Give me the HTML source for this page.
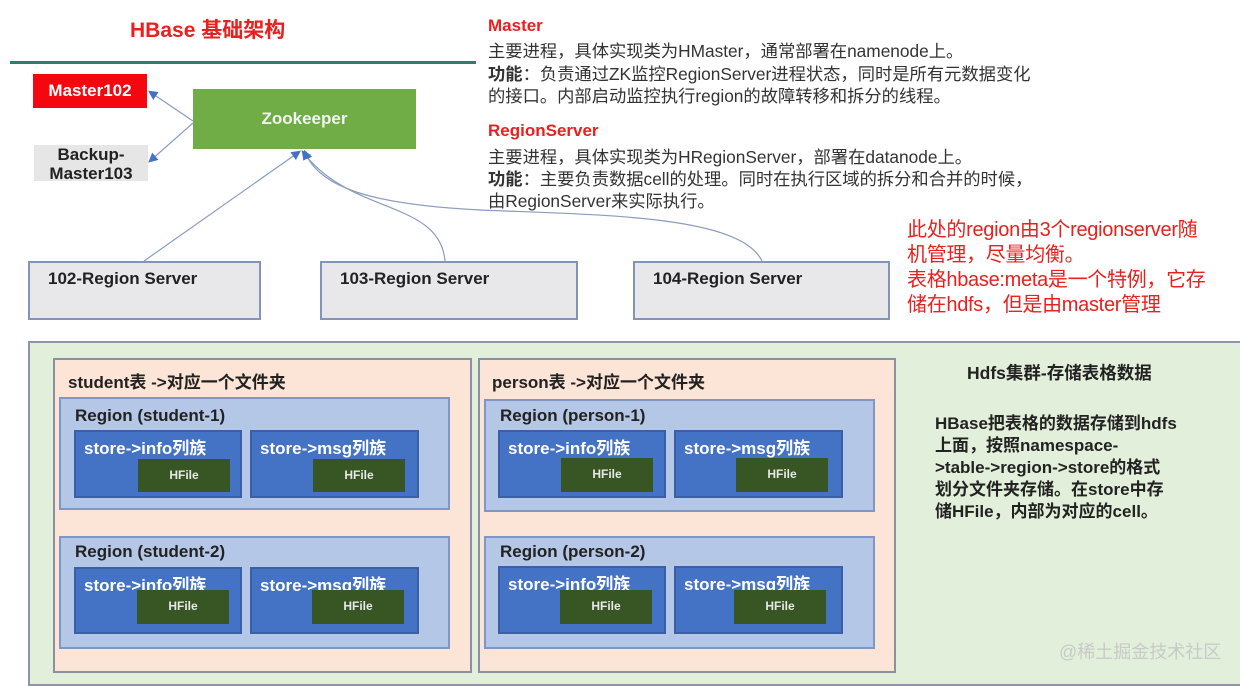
<!DOCTYPE html>
<html><head><meta charset="utf-8"><style>
*{margin:0;padding:0;box-sizing:border-box}
body{width:1240px;height:680px;background:#fff;position:relative;overflow:hidden;font-family:"Liberation Sans","Noto Sans CJK SC",sans-serif}
.a{position:absolute}
.t{position:absolute;white-space:nowrap}
.srv{position:absolute;background:#e8e8ea;border:2px solid #8294b8;font-size:17px;font-weight:bold;color:#222;padding:6px 0 0 18px}
.peach{position:absolute;background:#fce4d6;border:2px solid #8a8fa3}
.reg{position:absolute;background:#b4c7e7;border:2px solid #8096c6}
.st{position:absolute;background:#4472c4;border:2px solid #3a5fa6;color:#fff;font-size:17px;font-weight:bold;padding:2px 0 0 8px;white-space:nowrap}
.hf{position:absolute;background:#375623;color:#e8e8e8;font-size:12px;font-weight:bold;text-align:center;line-height:33px}
.rl{position:absolute;font-size:17px;font-weight:bold;color:#222;white-space:nowrap}
.d{font-size:17.3px;color:#333;left:488px;letter-spacing:0}
</style></head><body>
<div class="t" style="left:130px;top:14px;font-size:21px;font-weight:bold;color:#e8201e">HBase 基础架构</div>
<div class="a" style="left:10px;top:61px;width:466px;height:3px;background:#2b7e6e"></div>

<div class="a" style="left:33px;top:74px;width:114px;height:34px;background:#f5070f;color:#fff;font-size:17px;font-weight:bold;text-align:center;line-height:34px">Master102</div>
<div class="a" style="left:34px;top:145px;width:114px;height:36px;background:#e6e6e6;color:#222;font-size:17px;font-weight:bold;text-align:center;line-height:19px">Backup-<br>Master103</div>
<div class="a" style="left:193px;top:89px;width:223px;height:60px;background:#70ad47;color:#f2f2f2;font-size:17px;font-weight:bold;text-align:center;line-height:60px">Zookeeper</div>

<svg class="a" style="left:0;top:0" width="1240" height="340">
<defs><marker id="m" markerWidth="8" markerHeight="8" refX="6" refY="4" orient="auto"><path d="M0,0 L8,4 L0,8z" fill="#4472c4"/></marker></defs>
<g stroke="#8a9cc0" stroke-width="1.2" fill="none">
<line x1="193" y1="121" x2="150" y2="92" marker-end="url(#m)"/>
<line x1="193" y1="123" x2="150" y2="161" marker-end="url(#m)"/>
<line x1="144" y1="261" x2="299" y2="152" marker-end="url(#m)"/>
<path d="M445,261 C440,200 350,215 303,152" marker-end="url(#m)"/>
<path d="M762,261 C740,215 600,215 480,210 C380,205 320,190 305,152" marker-end="url(#m)"/>
</g></svg>

<div class="t" style="left:488px;top:16px;font-size:17px;font-weight:bold;color:#e8201e">Master</div>
<div class="t d" style="top:37px">主要进程，具体实现类为HMaster，通常部署在namenode上。</div>
<div class="t d" style="top:60px"><b>功能</b>：负责通过ZK监控RegionServer进程状态，同时是所有元数据变化</div>
<div class="t d" style="top:82px">的接口。内部启动监控执行region的故障转移和拆分的线程。</div>
<div class="t" style="left:488px;top:121px;font-size:17px;font-weight:bold;color:#e8201e">RegionServer</div>
<div class="t d" style="top:143px">主要进程，具体实现类为HRegionServer，部署在datanode上。</div>
<div class="t d" style="top:165px"><b>功能</b>：主要负责数据cell的处理。同时在执行区域的拆分和合并的时候，</div>
<div class="t d" style="top:187px">由RegionServer来实际执行。</div>

<div class="t" style="left:907px;top:218px;font-size:20px;color:#e8201e;line-height:25px;letter-spacing:-0.3px">此处的region由3个regionserver随<br>机管理，尽量均衡。<br>表格hbase:meta是一个特例，它存<br>储在hdfs，但是由master管理</div>

<div class="srv" style="left:28px;top:261px;width:233px;height:59px">102-Region Server</div>
<div class="srv" style="left:320px;top:261px;width:258px;height:59px">103-Region Server</div>
<div class="srv" style="left:633px;top:261px;width:257px;height:59px">104-Region Server</div>

<div class="a" style="left:28px;top:341px;width:1220px;height:345px;background:#e2efda;border:2px solid #8f93a8"></div>

<div class="peach" style="left:53px;top:358px;width:419px;height:315px"></div>
<div class="rl" style="left:68px;top:368px">student表 -&gt;对应一个文件夹</div>
<div class="reg" style="left:59px;top:397px;width:391px;height:113px"></div>
<div class="rl" style="left:75px;top:406px">Region (student-1)</div>
<div class="st" style="left:74px;top:430px;width:168px;height:68px">store-&gt;info列族</div>
<div class="st" style="left:250px;top:430px;width:169px;height:68px">store-&gt;msg列族</div>
<div class="hf" style="left:138px;top:459px;width:92px;height:33px">HFile</div>
<div class="hf" style="left:313px;top:459px;width:92px;height:33px">HFile</div>
<div class="reg" style="left:59px;top:536px;width:391px;height:113px"></div>
<div class="rl" style="left:75px;top:542px">Region (student-2)</div>
<div class="st" style="left:74px;top:567px;width:168px;height:67px">store-&gt;info列族</div>
<div class="st" style="left:250px;top:567px;width:169px;height:67px">store-&gt;msg列族</div>
<div class="hf" style="left:137px;top:590px;width:92px;height:34px">HFile</div>
<div class="hf" style="left:312px;top:590px;width:92px;height:34px">HFile</div>

<div class="peach" style="left:478px;top:358px;width:418px;height:315px"></div>
<div class="rl" style="left:492px;top:368px">person表 -&gt;对应一个文件夹</div>
<div class="reg" style="left:484px;top:399px;width:391px;height:113px"></div>
<div class="rl" style="left:500px;top:406px">Region (person-1)</div>
<div class="st" style="left:498px;top:430px;width:168px;height:68px">store-&gt;info列族</div>
<div class="st" style="left:674px;top:430px;width:169px;height:68px">store-&gt;msg列族</div>
<div class="hf" style="left:561px;top:458px;width:92px;height:34px">HFile</div>
<div class="hf" style="left:736px;top:458px;width:92px;height:34px">HFile</div>
<div class="reg" style="left:484px;top:536px;width:391px;height:113px"></div>
<div class="rl" style="left:500px;top:542px">Region (person-2)</div>
<div class="st" style="left:498px;top:566px;width:168px;height:68px">store-&gt;info列族</div>
<div class="st" style="left:674px;top:566px;width:169px;height:68px">store-&gt;msg列族</div>
<div class="hf" style="left:560px;top:590px;width:92px;height:34px">HFile</div>
<div class="hf" style="left:734px;top:590px;width:92px;height:34px">HFile</div>

<div class="t" style="left:967px;top:360px;font-size:17.5px;font-weight:bold;color:#222">Hdfs集群-存储表格数据</div>
<div class="t" style="left:935px;top:413px;font-size:17px;font-weight:bold;color:#222;line-height:22px">HBase把表格的数据存储到hdfs<br>上面，按照namespace-<br>&gt;table-&gt;region-&gt;store的格式<br>划分文件夹存储。在store中存<br>储HFile，内部为对应的cell。</div>
<div class="t" style="left:1059px;top:638px;font-size:18px;color:#c8cac8">@稀土掘金技术社区</div>
</body></html>
